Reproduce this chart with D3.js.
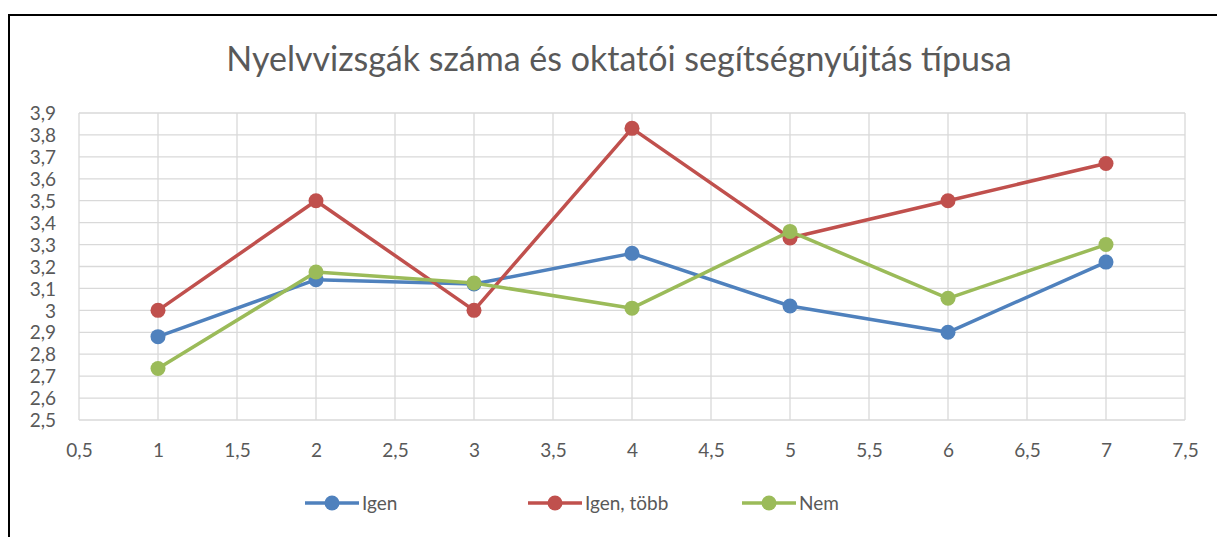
<!DOCTYPE html>
<html>
<head>
<meta charset="utf-8">
<script src="https://cdn.jsdelivr.net/npm/d3@7"></script>
<style>
  body { margin: 0; background: #fff; }
  svg { display: block; font-family: Lato, "Open Sans", sans-serif; }
</style>
</head>
<body>
<div id="chart"></div>
<script>
// data
const xValues = [1, 2, 3, 4, 5, 6, 7];
const igen = [2.88, 3.14, 3.12, 3.26, 3.02, 2.90, 3.22];
const igenTobb = [3.00, 3.50, 3.00, 3.83, 3.33, 3.50, 3.67];
const nem = [2.735, 3.175, 3.125, 3.01, 3.36, 3.055, 3.30];
const seriesNames = ['Igen', 'Igen, több', 'Nem'];
const seriesColors = ['#4f81bd', '#c0504d', '#9bbb59'];
const xTicks = [0.5, 1, 1.5, 2, 2.5, 3, 3.5, 4, 4.5, 5, 5.5, 6, 6.5, 7, 7.5];
const yTicks = [2.5, 2.6, 2.7, 2.8, 2.9, 3, 3.1, 3.2, 3.3, 3.4, 3.5, 3.6, 3.7, 3.8, 3.9];

const width = 1217, height = 537;
const margin = { top: 113, right: 32, bottom: 117, left: 79 };

const svg = d3.select('#chart').append('svg')
  .attr('width', width).attr('height', height);

// outer frame (only top and left visible)
svg.append('path')
  .attr('d', `M9,${height} L9,15 L${width},15`)
  .attr('fill', 'none').attr('stroke', '#000').attr('stroke-width', 2);

const x = d3.scaleLinear().domain([0.5, 7.5]).range([margin.left, width - margin.right]);
const y = d3.scaleLinear().domain([2.5, 3.9]).range([height - margin.bottom, margin.top]);

const fmt = d => String(+d.toFixed(1)).replace('.', ',');

// gridlines
svg.append('g').selectAll('line').data(yTicks).join('line')
  .attr('x1', x(0.5)).attr('x2', x(7.5))
  .attr('y1', d => y(d)).attr('y2', d => y(d))
  .attr('stroke', '#d9d9d9').attr('stroke-width', 1.3);
svg.append('g').selectAll('line').data(xTicks).join('line')
  .attr('x1', d => x(d)).attr('x2', d => x(d))
  .attr('y1', y(2.5)).attr('y2', y(3.9))
  .attr('stroke', '#d9d9d9').attr('stroke-width', 1.3);

// axes, labels only
const yAxis = svg.append('g')
  .attr('transform', `translate(${x(0.5) - 9},0)`)
  .call(d3.axisLeft(y).tickValues(yTicks).tickFormat(fmt).tickSize(0).tickPadding(14));
yAxis.select('.domain').remove();
yAxis.selectAll('text').attr('font-size', 19).attr('fill', '#595959')
  .attr('font-family', 'Lato, "Open Sans", sans-serif').attr('dy', '0.35em');

const xAxis = svg.append('g')
  .attr('transform', `translate(0,${y(2.5)})`)
  .call(d3.axisBottom(x).tickValues(xTicks).tickFormat(fmt).tickSize(0).tickPadding(24));
xAxis.select('.domain').remove();
xAxis.selectAll('text').attr('font-size', 19).attr('fill', '#595959')
  .attr('font-family', 'Lato, "Open Sans", sans-serif');

// title
svg.append('text')
  .attr('x', 619).attr('y', 71)
  .attr('text-anchor', 'middle')
  .attr('font-size', 34).attr('fill', '#595959')
  .text('Nyelvvizsgák száma és oktatói segítségnyújtás típusa');

// series
const allSeries = [igen, igenTobb, nem];
const line = d3.line().x((d, i) => x(xValues[i])).y(d => y(d));

allSeries.forEach((vals, s) => {
  const g = svg.append('g');
  g.append('path').datum(vals)
    .attr('d', line)
    .attr('fill', 'none')
    .attr('stroke', seriesColors[s])
    .attr('stroke-width', 3.5)
    .attr('stroke-linejoin', 'round');
  g.selectAll('circle').data(vals).join('circle')
    .attr('cx', (d, i) => x(xValues[i]))
    .attr('cy', d => y(d))
    .attr('r', 7.5)
    .attr('fill', seriesColors[s]);
});

// legend
const legendX = [305, 528, 742];
const legend = svg.append('g').attr('transform', 'translate(0,503)');
seriesNames.forEach((name, s) => {
  const lg = legend.append('g').attr('transform', `translate(${legendX[s]},0)`);
  lg.append('line').attr('x1', 0).attr('x2', 54)
    .attr('stroke', seriesColors[s]).attr('stroke-width', 3.5);
  lg.append('circle').attr('cx', 27).attr('r', 7.5).attr('fill', seriesColors[s]);
  lg.append('text').attr('x', 57).attr('dy', '0.35em')
    .attr('font-size', 19).attr('fill', '#595959').text(name);
});
</script>
</body>
</html>
